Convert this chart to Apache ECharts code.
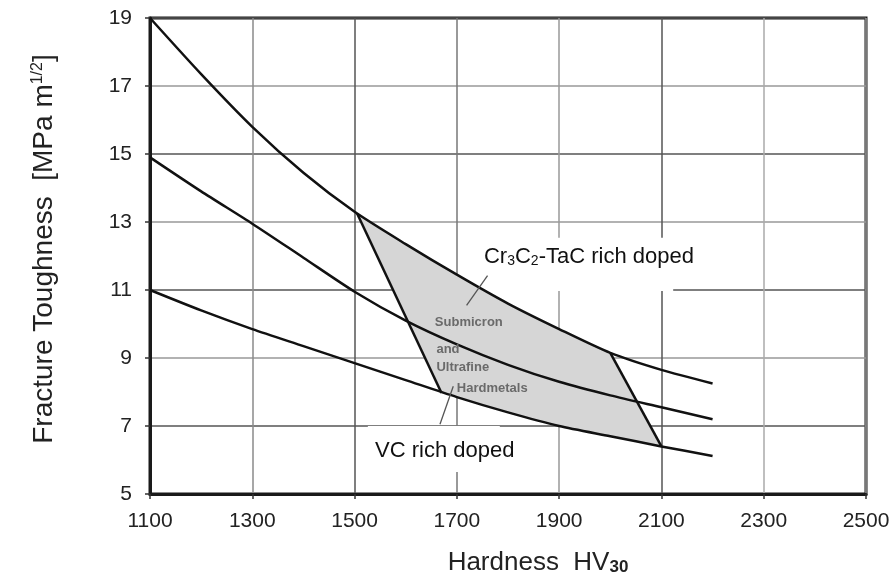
<!DOCTYPE html>
<html>
<head>
<meta charset="utf-8">
<title>Fracture toughness vs hardness</title>
<script src="https://cdn.jsdelivr.net/npm/echarts@6/dist/echarts.min.js"></script>
<style>
  html, body { margin: 0; padding: 0; background: #fff; }
  #main { width: 893px; height: 581px; }
</style>
</head>
<body>
<div id="main"></div>
<script>
var hardness = [1100, 1200, 1300, 1400, 1500, 1600, 1700, 1800, 1900, 2000, 2100, 2200];
// fracture toughness, MPa m^1/2
var upperK  = [19.0, 17.35, 15.8, 14.45, 13.3, 12.35, 11.45, 10.6, 9.85, 9.15, 8.65, 8.25];
var middleK = [14.9, 13.9, 12.95, 11.95, 10.95, 10.1, 9.4, 8.8, 8.3, 7.9, 7.55, 7.2];
var lowerK  = [11.0, 10.4, 9.85, 9.35, 8.85, 8.35, 7.85, 7.4, 7.0, 6.7, 6.4, 6.12];

// corners of the grey submicron / ultrafine band
var bandTopLeft = [1505, 13.25];
var bandTopRight = [2000, 9.15];
var bandBottomRight = [2100, 6.4];
var bandBottomLeft = [1670, 7.97];

var xTicks = [1100, 1300, 1500, 1700, 1900, 2100, 2300, 2500];
var yTicks = [5, 7, 9, 11, 13, 15, 17, 19];

var FONT = '"Liberation Sans", Arial, sans-serif';

function pairs(ys) {
    return hardness.map(function (h, i) { return [h, ys[i]]; });
}

// outline of the band: along the upper curve, down the right edge, back along the lower curve
var bandOutline = [bandTopLeft];
hardness.forEach(function (h, i) {
    if (h > bandTopLeft[0] && h < bandTopRight[0]) bandOutline.push([h, upperK[i]]);
});
bandOutline.push(bandTopRight, bandBottomRight);
hardness.slice().reverse().forEach(function (h) {
    var i = hardness.indexOf(h);
    if (h > bandBottomLeft[0] && h < bandBottomRight[0]) bandOutline.push([h, lowerK[i]]);
});
bandOutline.push(bandBottomLeft);

// white patches behind the two callouts (x1, y1, x2, y2 in axis units)
var boxRects = [[1735, 12.54, 2123, 10.97], [1526, 7.0, 1784, 5.65]];

var labelAnchors = [[1753, 11.96], [1540, 6.26], [1657, 10.05], [1660, 9.26], [1660, 8.73], [1700, 8.11]];
var labelTexts = [
    'Cr{sub|3}C{sub|2}-TaC rich doped',
    'VC rich doped',
    '{small|Submicron}',
    '{small|and}',
    '{small|Ultrafine}',
    '{small|Hardmetals}'
];
var leaderCr = [[1719, 10.55], [1760, 11.42]];
var leaderVC = [[1667, 7.05], [1693, 8.17]];

var myChart = echarts.init(document.getElementById('main'));

var curveStyle = { color: '#111', width: 2.5 };

myChart.setOption({
    animation: false,
    backgroundColor: '#fff',
    grid: {
        left: 150, right: 27, top: 18, bottom: 86,
        show: true, borderColor: '#1a1a1a', borderWidth: 3
    },
    xAxis: {
        type: 'value',
        min: xTicks[0], max: xTicks[xTicks.length - 1], interval: 200,
        name: 'Hardness  HV{sub|30}',
        nameLocation: 'middle',
        nameGap: 56,
        nameTextStyle: {
            fontFamily: FONT, fontSize: 26, color: '#222', padding: [0, 0, 0, 60],
            rich: { sub: { fontFamily: FONT, fontSize: 17, fontWeight: 'bold', color: '#222', verticalAlign: 'bottom', lineHeight: 17 } }
        },
        axisLine: { lineStyle: { color: '#1a1a1a', width: 3 } },
        axisTick: { show: true, length: 5, lineStyle: { color: '#333', width: 1.5 } },
        axisLabel: {
            fontFamily: FONT, fontSize: 21, color: '#222', margin: 17,
            formatter: function (v) { return String(v); }
        },
        splitLine: { show: true, lineStyle: { color: ['#999', '#8a8a8a', '#555', '#777', '#999', '#555', '#aaa', '#999'], width: 1.5 } }
    },
    yAxis: {
        type: 'value',
        min: yTicks[0], max: yTicks[yTicks.length - 1], interval: 2,
        name: 'Fracture Toughness  [MPa m{sup|1/2}]',
        nameLocation: 'middle',
        nameRotate: 90,
        nameGap: 92,
        nameTextStyle: {
            fontFamily: FONT, fontSize: 28, color: '#222', padding: [0, 0, 0, 14],
            rich: { sup: { fontFamily: FONT, fontSize: 16, color: '#222', verticalAlign: 'top', lineHeight: 16 } }
        },
        axisLine: { lineStyle: { color: '#1a1a1a', width: 3 } },
        axisTick: { show: true, length: 5, lineStyle: { color: '#333', width: 1.5 } },
        axisLabel: { fontFamily: FONT, fontSize: 21, color: '#222', margin: 18 },
        splitLine: { show: true, lineStyle: { color: ['#999', '#555'], width: 1.5 } }
    },
    series: [
        {
            // white backgrounds of the callouts
            type: 'custom',
            z: 1,
            silent: true,
            encode: { x: [0, 2], y: [1, 3] },
            data: boxRects,
            renderItem: function (params, api) {
                var p1 = api.coord([api.value(0), api.value(1)]);
                var p2 = api.coord([api.value(2), api.value(3)]);
                return {
                    type: 'rect',
                    shape: { x: p1[0], y: p1[1], width: p2[0] - p1[0], height: p2[1] - p1[1] },
                    style: { fill: '#fff' }
                };
            }
        },
        {
            // grey band
            type: 'custom',
            z: 2,
            silent: true,
            data: bandOutline,
            renderItem: function (params, api) {
                if (params.dataIndex !== 0) return null;
                var pts = bandOutline.map(function (p) { return api.coord(p); });
                return { type: 'polygon', shape: { points: pts }, style: { fill: '#d6d6d6' } };
            }
        },
        { type: 'line', z: 3, data: pairs(upperK), smooth: 0.25, symbol: 'none', lineStyle: curveStyle },
        { type: 'line', z: 3, data: pairs(middleK), smooth: 0.25, symbol: 'none', lineStyle: curveStyle },
        { type: 'line', z: 3, data: pairs(lowerK), smooth: 0.25, symbol: 'none', lineStyle: curveStyle },
        { type: 'line', z: 3, data: [bandTopLeft, bandBottomLeft], symbol: 'none', lineStyle: curveStyle },
        { type: 'line', z: 3, data: [bandTopRight, bandBottomRight], symbol: 'none', lineStyle: curveStyle },
        { type: 'line', z: 4, data: leaderCr, symbol: 'none', lineStyle: { color: '#555', width: 1.3 } },
        { type: 'line', z: 4, data: leaderVC, symbol: 'none', lineStyle: { color: '#555', width: 1.3 } },
        {
            // callout texts
            type: 'custom',
            z: 5,
            silent: true,
            data: labelAnchors,
            renderItem: function (params, api) {
                var p = api.coord([api.value(0), api.value(1)]);
                return {
                    type: 'text',
                    x: p[0], y: p[1],
                    style: {
                        text: labelTexts[params.dataIndex],
                        fontFamily: FONT, fontSize: 22, fill: '#111',
                        align: 'left', verticalAlign: 'middle',
                        rich: {
                            sub: { fontFamily: FONT, fontSize: 14, fill: '#111', verticalAlign: 'bottom', lineHeight: 14 },
                            small: { fontFamily: FONT, fontSize: 13, fontWeight: 'bold', fill: '#6a6a6a' }
                        }
                    }
                };
            }
        }
    ]
});
</script>
</body>
</html>
